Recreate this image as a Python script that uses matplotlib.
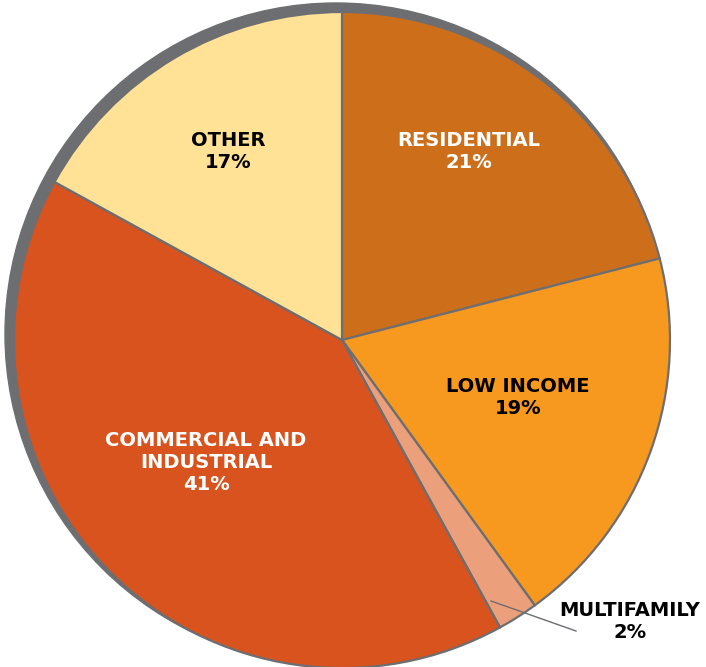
import matplotlib
matplotlib.use('Agg')
import matplotlib.pyplot as plt
from matplotlib.patches import Circle

# Share of program budget by customer sector
sectors = ['RESIDENTIAL', 'LOW INCOME', 'MULTIFAMILY', 'COMMERCIAL AND\nINDUSTRIAL', 'OTHER']
shares = [21, 19, 2, 41, 17]
colors = ['#CD6E1B', '#F7981F', '#EBA07B', '#D9531E', '#FFE295']
text_colors = ['white', 'black', 'black', 'white', 'black']

W, H = 706, 667
fig = plt.figure(figsize=(W / 100, H / 100), dpi=100)
ax = fig.add_axes([0, 0, 1, 1])

cx, cy, r = 342, H - 340, 328

# grey rim sitting slightly up and to the left of the pie
ax.add_patch(Circle((cx - 6, cy + 6), r + 3, color='#6D6E71', zorder=0))

wedges, _ = ax.pie(shares, colors=colors, startangle=90, counterclock=False,
                   center=(cx, cy), radius=r, frame=True,
                   wedgeprops=dict(edgecolor='#6D6E71', linewidth=1.6))
ax.set_xlim(0, W)
ax.set_ylim(0, H)
ax.set_aspect('equal')
ax.axis('off')

# label anchor points (pixel coords from top-left)
label_pos = [(469, 152), (518, 398), (630, 622), (206, 462), (228, 152)]
for name, val, tc, (x, y) in zip(sectors, shares, text_colors, label_pos):
    ax.text(x, H - y, f'{name}\n{val}%', ha='center', va='center',
            color=tc, fontsize=14, fontweight='bold', family='DejaVu Sans',
            linespacing=1.2, zorder=5)

# leader line for the thin multifamily slice
ax.plot([491, 576], [H - 601, H - 631], color='#6D6E71', lw=1, zorder=5)

fig.savefig('out.png', dpi=100)
